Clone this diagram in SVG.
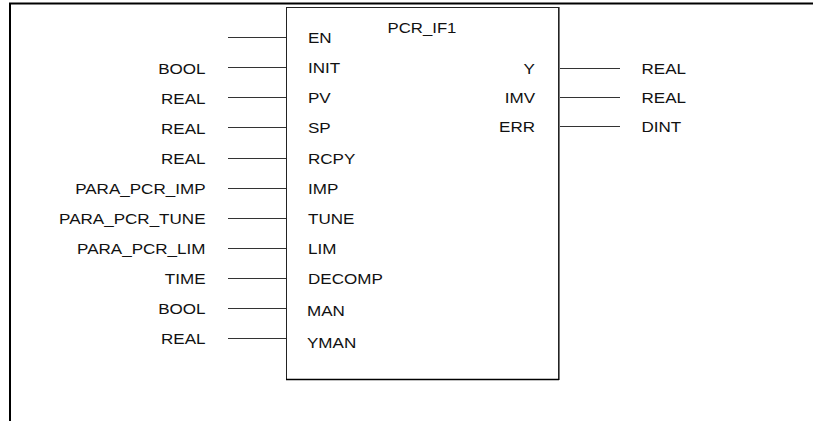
<svg xmlns="http://www.w3.org/2000/svg" width="813" height="421" viewBox="0 0 813 421">
<style>
text { font-family: "Liberation Sans", Arial, sans-serif; font-size: 15.5px; fill: #111; }
.r { text-anchor: end; }
.m { text-anchor: middle; }
.c { stroke: #333; stroke-width: 1; fill: none; }
.frame { stroke: #000; stroke-width: 2; fill: none; }
</style>
<rect width="813" height="421" fill="#fff"/>
<g id="frame">
<line class="frame" x1="10" y1="3" x2="10" y2="421"/>
<line class="frame" x1="9" y1="3.5" x2="813" y2="3.5"/>
</g>
<g id="block">
<rect x="286.5" y="7.5" width="272" height="372" fill="#fff" stroke="#222" stroke-width="1"/>
<line x1="286" y1="379.5" x2="559" y2="379.5" stroke="#000" stroke-width="1.5"/>
<line x1="559.5" y1="7" x2="559.5" y2="380" stroke="#777" stroke-width="1"/>
<text class="m" transform="translate(422 32.5) scale(1.08 1)">PCR_IF1</text>
<text transform="translate(308 43) scale(1.1 1)">EN</text>
<text transform="translate(308 73) scale(1.1 1)">INIT</text>
<text transform="translate(308 103) scale(1.1 1)">PV</text>
<text transform="translate(308 133) scale(1.1 1)">SP</text>
<text transform="translate(308 164) scale(1.1 1)">RCPY</text>
<text transform="translate(308 194) scale(1.1 1)">IMP</text>
<text transform="translate(308 224) scale(1.1 1)">TUNE</text>
<text transform="translate(308 254) scale(1.1 1)">LIM</text>
<text transform="translate(308 284.3) scale(1.1 1)">DECOMP</text>
<text transform="translate(307 315.7) scale(1.1 1)">MAN</text>
<text transform="translate(307 348.3) scale(1.1 1)">YMAN</text>
<text class="r" transform="translate(535 74) scale(1.1 1)">Y</text>
<text class="r" transform="translate(535 103) scale(1.1 1)">IMV</text>
<text class="r" transform="translate(535 132) scale(1.1 1)">ERR</text>
</g>
<g id="types">
<text class="r" transform="translate(205.5 73.5) scale(1.1 1)">BOOL</text>
<text class="r" transform="translate(205.5 103.5) scale(1.1 1)">REAL</text>
<text class="r" transform="translate(205.5 133.5) scale(1.1 1)">REAL</text>
<text class="r" transform="translate(205.5 164) scale(1.1 1)">REAL</text>
<text class="r" transform="translate(205.5 194) scale(1.1 1)">PARA_PCR_IMP</text>
<text class="r" transform="translate(205.5 224) scale(1.1 1)">PARA_PCR_TUNE</text>
<text class="r" transform="translate(205.5 254) scale(1.1 1)">PARA_PCR_LIM</text>
<text class="r" transform="translate(205.5 284) scale(1.1 1)">TIME</text>
<text class="r" transform="translate(205.5 314) scale(1.1 1)">BOOL</text>
<text class="r" transform="translate(205.5 344) scale(1.1 1)">REAL</text>
<text transform="translate(641.5 74) scale(1.1 1)">REAL</text>
<text transform="translate(641.5 103) scale(1.1 1)">REAL</text>
<text transform="translate(641.5 132) scale(1.1 1)">DINT</text>
</g>
<g id="connectors">
<line class="c" x1="228" y1="37.5" x2="286" y2="37.5"/>
<line class="c" x1="228" y1="67.5" x2="286" y2="67.5"/>
<line class="c" x1="228" y1="97.5" x2="286" y2="97.5"/>
<line class="c" x1="228" y1="127.5" x2="286" y2="127.5"/>
<line class="c" x1="228" y1="158.5" x2="286" y2="158.5"/>
<line class="c" x1="228" y1="188.5" x2="286" y2="188.5"/>
<line class="c" x1="228" y1="218.5" x2="286" y2="218.5"/>
<line class="c" x1="228" y1="248.5" x2="286" y2="248.5"/>
<line class="c" x1="228" y1="278.5" x2="286" y2="278.5"/>
<line class="c" x1="228" y1="308.5" x2="286" y2="308.5"/>
<line class="c" x1="228" y1="338.5" x2="286" y2="338.5"/>
<line class="c" x1="560" y1="68.5" x2="620" y2="68.5"/>
<line class="c" x1="560" y1="97.5" x2="620" y2="97.5"/>
<line class="c" x1="560" y1="126.5" x2="620" y2="126.5"/>
</g>
</svg>
